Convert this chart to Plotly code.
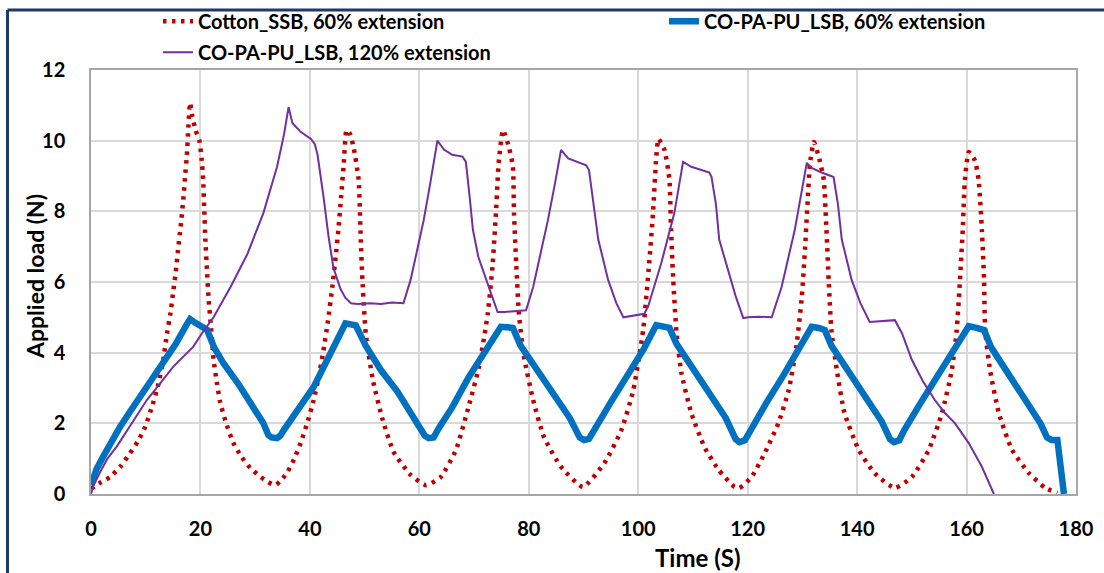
import plotly.graph_objects as go

# ---------------- data ----------------
cotton_t = [0, 1.5, 3.5, 5.5, 7.1, 8.6, 9.9, 11.2, 12.3, 13.2, 13.9, 14.5, 15.0, 15.5, 15.9, 16.4, 16.9, 17.2, 17.5, 17.8, 18.1,
            18.5, 19.1, 19.8, 20.2, 20.5, 20.7, 20.9, 21.2, 21.5, 22.0, 22.4, 23.0, 23.6, 24.7, 26.0, 27.5, 29.1, 30.7, 32.2, 33.7,
            34.8, 35.9, 37.1, 38.3, 39.5, 40.7, 41.6, 42.5, 43.3, 44.1, 44.7, 45.2, 45.7, 46.2, 46.7,
            47.3, 48.0, 48.9, 49.3, 49.6, 50.2, 51.5, 53.3, 55.3, 58.4, 61.2,
            63.9, 66.7, 69.0, 70.9, 72.5, 73.4, 74.0, 74.5, 75.3,
            76.4, 77.1, 77.3, 77.7, 78.2, 79.1, 80.8, 82.8, 85.9, 89.9,
            93.8, 96.9, 99.1, 100.9, 102.0, 102.7, 103.3, 103.7,
            104.8, 105.7, 106.0, 106.4, 107.0, 107.9, 109.7, 112.1, 114.7, 117.6, 118.5,
            120.7, 123.1, 125.6, 127.5, 128.9, 129.9, 130.5, 131.0, 131.4, 132.1,
            133.0, 133.9, 134.4, 134.8, 135.3, 136.3, 137.7, 140.3, 143.2, 146.9,
            150.0, 153.1, 155.5, 157.3, 158.2, 158.8, 159.3, 159.7, 160.4,
            161.5, 162.2, 162.8, 163.2, 163.4, 164.3, 165.9, 168.3, 171.4, 174.4, 176.6]
cotton_y = [0.15, 0.3, 0.48, 0.8, 1.15, 1.5, 1.9, 2.5, 3.1, 3.8, 4.55, 5.1, 5.7, 6.3, 6.9, 7.6, 8.4, 9.0, 9.55, 10.4, 11.07,
            10.7, 10.3, 10.0, 9.5, 8.9, 8.0, 7.2, 6.3, 5.5, 4.6, 3.8, 3.15, 2.6, 2.0, 1.45, 1.05, 0.74, 0.52, 0.35, 0.25,
            0.4, 0.62, 0.98, 1.44, 2.0, 2.66, 3.3, 4.08, 4.9, 5.86, 6.7, 7.47, 8.4, 9.37, 10.3,
            10.2, 9.8, 8.9, 7.2, 6.06, 4.55, 3.23, 2.1, 1.19, 0.54, 0.25,
            0.48, 1.25, 2.47, 3.6, 5.1, 6.5, 7.95, 9.37, 10.3,
            9.8, 9.26, 7.95, 6.53, 5.1, 3.9, 2.66, 1.6, 0.77, 0.2,
            0.87, 1.8, 2.94, 4.64, 6.53, 7.95, 9.54, 10.05,
            9.74, 8.9, 7.47, 6.06, 4.55, 3.42, 2.29, 1.33, 0.68, 0.2, 0.17,
            0.48, 1.15, 2.0, 2.94, 4.17, 5.58, 7.0, 8.4, 9.37, 9.96,
            9.54, 8.9, 7.47, 6.06, 4.64, 3.5, 2.29, 1.25, 0.59, 0.17,
            0.48, 1.25, 2.29, 3.5, 4.64, 6.06, 7.47, 8.9, 9.68,
            9.45, 8.9, 7.47, 6.06, 4.64, 3.5, 2.29, 1.25, 0.59, 0.17, 0.03]

lsb60_t = [0, 1, 2.2, 3.7, 5.3, 7.0, 9, 11, 13.2, 15.5, 17.5, 18.1, 19, 20.3, 21.2, 22.5, 24.2, 27, 29.7, 31.5, 32.4, 33, 34,
           34.6, 35.2, 37.5, 40.7, 43.5, 46.5, 47.5, 48.4, 50.2, 53, 56, 59, 61, 61.7, 62.6, 63.5, 66, 69, 72, 74.9, 76,
           77.1, 78.5, 81.5, 84.5, 87.5, 89.3, 90.1, 91, 92, 95, 98, 101, 103.3, 104.5, 105.7, 107, 110, 113, 116, 117.8,
           118.5, 119.5, 120.5, 123.5, 126.5, 129.5, 131.7, 133, 134.1, 135.3, 138.5, 141.5, 144.5, 146, 146.7, 147.7,
           148.6, 151.5, 154.5, 157.5, 160.4, 161.8, 163.2, 164.5, 167.5, 170.5, 173.5, 174.7, 175.5, 176.6, 177.8]
lsb60_y = [0.25, 0.7, 1.05, 1.5, 1.9, 2.3, 2.75, 3.2, 3.7, 4.25, 4.8, 4.95, 4.85, 4.75, 4.65, 4.15, 3.7, 3.1, 2.47, 2.0, 1.67,
           1.6, 1.58, 1.65, 1.8, 2.3, 3.03, 3.9, 4.83, 4.8, 4.77, 4.2, 3.5, 2.9, 2.2, 1.65, 1.58, 1.6, 1.85, 2.45, 3.3, 4.05,
           4.73, 4.72, 4.7, 4.2, 3.5, 2.8, 2.15, 1.6, 1.53, 1.56, 1.8, 2.6, 3.35, 4.1, 4.78, 4.73, 4.7, 4.25, 3.55, 2.85, 2.15,
           1.55, 1.47, 1.52, 1.8, 2.6, 3.35, 4.15, 4.73, 4.7, 4.64, 4.2, 3.45, 2.75, 2.05, 1.55, 1.47, 1.52, 1.8, 2.55, 3.3,
           4.05, 4.75, 4.7, 4.64, 4.15, 3.45, 2.75, 2.0, 1.6, 1.53, 1.53, 0]

lsb120_t = [0, 0.5, 1.6, 3, 4.7, 7.5, 10.2, 12.5, 15, 18.7, 20.5, 22.4, 25.5, 28.6, 31.5, 34, 35.3, 36.1, 36.8, 38.3, 40.2,
            40.9, 41.4, 42.5, 43.4, 44.3, 45.6, 46.5, 47.5, 48.7, 51, 53, 55, 57.1, 58.4, 59.6, 60.8, 62, 63.3, 64.5, 66,
            67.9, 68.5, 69.2, 69.8, 70.8, 71.8, 73.2, 74.3, 75.5, 77.5, 79.5, 80.8, 82.2, 83.5, 84.8, 85.9, 87.2, 89, 90.5,
            91, 91.8, 92.7, 94.5, 96, 97.3, 99, 101.1, 101.8, 104.2, 106.6, 108.2, 109.7, 111.5, 113, 113.4, 114.2, 114.8,
            116.5, 117.8, 119.2, 120.1, 122, 124.4, 126.2, 128.6, 130.8, 131.7, 133.5, 135.7, 136.5, 137.2, 139, 140.6,
            142.3, 144.5, 146.9, 148.2, 150, 152, 154.2, 156, 157.9, 160.4, 162.8, 165]
lsb120_y = [0, 0.25, 0.6, 1.0, 1.34, 2.0, 2.66, 3.1, 3.6, 4.17, 4.6, 5.0, 5.86, 6.8, 7.95, 9.26, 10.2, 10.95, 10.5, 10.25, 10.05,
            9.9, 9.6, 8.4, 7.3, 6.4, 5.8, 5.55, 5.4, 5.38, 5.4, 5.38, 5.42, 5.4, 6.06, 6.9, 7.75, 8.8, 10.0, 9.75, 9.6,
            9.55, 9.4, 8.4, 7.47, 6.7, 6.25, 5.6, 5.15, 5.15, 5.18, 5.2, 5.86, 6.8, 7.75, 8.8, 9.74, 9.5, 9.38, 9.3,
            9.17, 8.2, 7.2, 6.06, 5.4, 5.0, 5.05, 5.1, 5.3, 6.53, 7.95, 9.4, 9.26, 9.17, 9.1, 8.97, 8.2, 7.2,
            6.25, 5.6, 4.98, 5.0, 5.02, 5.0, 5.86, 7.47, 9.37, 9.23, 9.1, 8.97, 8.2, 7.2, 6.06, 5.4,
            4.87, 4.9, 4.92, 4.55, 3.8, 3.2, 2.66, 2.3, 2.0, 1.44, 0.77, 0]

x_ticks = [0, 20, 40, 60, 80, 100, 120, 140, 160, 180]
y_ticks = [0, 2, 4, 6, 8, 10, 12]

FONT = "Lato"
BOLD = dict(family=FONT, weight="bold", color="black")

# pixel -> paper helpers for the frame around the chart
PL, PT, PW, PH = 91, 70, 985, 424
def px_x(p):
    return (p - PL) / PW
def px_y(p):
    return (PT + PH - p) / PH

fig = go.Figure()
fig.add_trace(go.Scatter(
    x=cotton_t, y=cotton_y, mode="lines", name="Cotton_SSB, 60% extension",
    line=dict(color="#C00000", width=4.5, dash="3.5px,5.5px", shape="spline", smoothing=0.5),
    legend="legend", legendgroup="a", legendrank=1))
fig.add_trace(go.Scatter(
    x=lsb60_t, y=lsb60_y, mode="lines", name="CO-PA-PU_LSB, 60% extension",
    line=dict(color="#0070C0", width=6.5),
    legend="legend2"))
fig.add_trace(go.Scatter(
    x=lsb120_t, y=lsb120_y, mode="lines", name="CO-PA-PU_LSB, 120% extension",
    line=dict(color="#7030A0", width=2),
    legend="legend", legendgroup="b", legendrank=2))

NAVY = "#1F3A68"
fig.update_layout(
    width=1104, height=573,
    margin=dict(l=PL, r=1104 - PL - PW, t=PT, b=573 - PT - PH, autoexpand=False),
    paper_bgcolor="white", plot_bgcolor="white",
    font=dict(family=FONT, color="black"),
    legend=dict(x=0.068, y=1.161, xanchor="left", yanchor="top", orientation="v",
                bgcolor="rgba(0,0,0,0)", font=dict(size=20, **BOLD), tracegroupgap=2),
    legend2=dict(x=0.5817, y=1.161, xanchor="left", yanchor="top", orientation="v",
                 bgcolor="rgba(0,0,0,0)", font=dict(size=20, **BOLD)),
    shapes=[
        dict(type="line", xref="paper", yref="paper", x0=px_x(7.5), x1=px_x(1110), y0=px_y(10), y1=px_y(10),
             line=dict(color=NAVY, width=3), layer="above"),
        dict(type="line", xref="paper", yref="paper", x0=px_x(7.5), x1=px_x(7.5), y0=px_y(10), y1=px_y(580),
             line=dict(color=NAVY, width=3), layer="above"),
    ],
    annotations=[
        dict(text="Time (S)", xref="paper", yref="paper", x=px_x(697), y=px_y(557),
             xanchor="center", yanchor="middle", showarrow=False, font=dict(size=24, **BOLD)),
        dict(text="Applied load (N)", xref="paper", yref="paper", x=px_x(35), y=px_y(277),
             xanchor="center", yanchor="middle", textangle=-90, showarrow=False, font=dict(size=23, **BOLD)),
    ],
)

fig.update_xaxes(
    range=[0, 180], tickvals=x_ticks, ticktext=[str(v) for v in x_ticks],
    showgrid=True, gridcolor="#D9D9D9", gridwidth=1.5,
    showline=True, linecolor="#A6A6A6", linewidth=1.5, mirror=True, zeroline=False,
    ticks="", ticklabelstandoff=16, tickfont=dict(size=20, **BOLD))
fig.update_yaxes(
    range=[0, 12], tickvals=y_ticks, ticktext=[str(v) for v in y_ticks],
    showgrid=True, gridcolor="#D9D9D9", gridwidth=1.5,
    showline=True, linecolor="#A6A6A6", linewidth=1.5, mirror=True, zeroline=False,
    ticks="", ticklabelstandoff=20, tickfont=dict(size=20, **BOLD))

fig.write_html("out.html")
